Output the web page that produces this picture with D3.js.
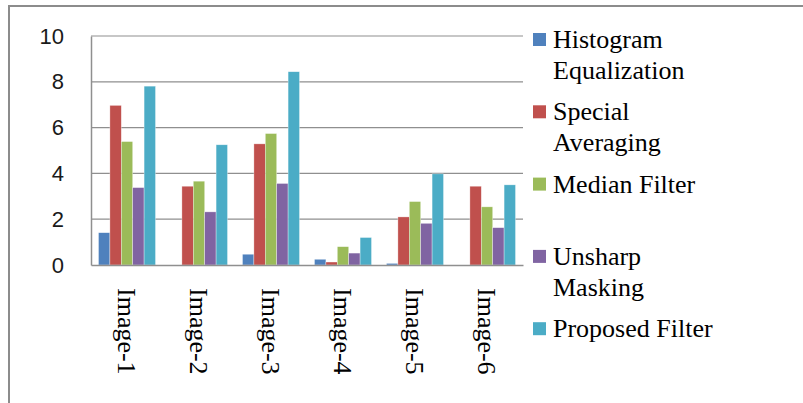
<!DOCTYPE html>
<html>
<head>
<meta charset="utf-8">
<script src="https://cdn.jsdelivr.net/npm/d3@7"></script>
<style>
  html, body { margin: 0; padding: 0; background: #fff; }
  svg { display: block; }
</style>
</head>
<body>
<svg id="chart" width="803" height="403"></svg>
<script>
const categories = ["Image-1", "Image-2", "Image-3", "Image-4", "Image-5", "Image-6"];
const seriesNames = ["Histogram Equalization", "Special Averaging", "Median Filter", "Unsharp Masking", "Proposed Filter"];
const legendLines = [["Histogram", "Equalization"], ["Special", "Averaging"], ["Median Filter"], ["Unsharp", "Masking"], ["Proposed Filter"]];
const histogramEq = [1.41, 0, 0.47, 0.25, 0.07, 0];
const specialAvg  = [6.97, 3.44, 5.29, 0.13, 2.10, 3.44];
const medianFilt  = [5.39, 3.66, 5.74, 0.80, 2.77, 2.54];
const unsharpMask = [3.38, 2.32, 3.56, 0.52, 1.82, 1.63];
const proposed    = [7.81, 5.25, 8.44, 1.20, 3.98, 3.50];
const yTicks = [0, 2, 4, 6, 8, 10];
const colors = ["#4F81BD", "#C0504D", "#9BBB59", "#8064A2", "#4BACC6"];

const seriesValues = [histogramEq, specialAvg, medianFilt, unsharpMask, proposed];
const SERIF = "'Times New Roman', 'Liberation Serif', serif";

const svg = d3.select("#chart");

// outer frame
svg.append("rect")
  .attr("x", 9).attr("y", 6).attr("width", 795).attr("height", 420)
  .attr("fill", "none").attr("stroke", "#8c8c8c").attr("stroke-width", 2);

const plot = { left: 91, right: 523, top: 36, bottom: 265 };

const x0 = d3.scaleBand().domain(categories).range([plot.left, plot.right]).padding(0);
const x1 = d3.scaleBand().domain(d3.range(seriesNames.length))
  .range([7.5, x0.bandwidth() - 7.5]).padding(0);
const y = d3.scaleLinear().domain([0, 10]).range([plot.bottom, plot.top]);

// gridlines
svg.append("g").selectAll("line").data(yTicks.filter(t => t > 0)).join("line")
  .attr("x1", plot.left).attr("x2", plot.right)
  .attr("y1", d => y(d)).attr("y2", d => y(d))
  .attr("stroke", "#8f8f8f").attr("stroke-width", 1.2);

// bars
const groups = svg.append("g").selectAll("g").data(categories).join("g")
  .attr("transform", d => `translate(${x0(d)},0)`);
groups.selectAll("rect")
  .data((c, ci) => seriesValues.map((vals, si) => ({ si, v: vals[ci] })))
  .join("rect")
  .attr("x", d => x1(d.si))
  .attr("width", x1.bandwidth())
  .attr("y", d => y(d.v))
  .attr("height", d => y(0) - y(d.v))
  .attr("fill", d => colors[d.si])
  .attr("stroke", "rgba(255,255,255,0.55)")
  .attr("stroke-width", 0.6);

// axes lines
const yAxis = d3.axisLeft(y).tickValues(yTicks).tickSize(0).tickPadding(27)
  .tickFormat(d3.format("d"));
const gy = svg.append("g").attr("transform", `translate(${plot.left},0)`).call(yAxis);
gy.attr("font-family", null).attr("font-size", null);
gy.select(".domain").attr("stroke", "#8f8f8f").attr("stroke-width", 1.5);
gy.selectAll("text")
  .attr("font-family", "Liberation Sans")
  .attr("font-size", 22).attr("fill", "#1a1a1a");

const xAxis = d3.axisBottom(x0).tickSize(0).tickFormat("");
const gx = svg.append("g").attr("transform", `translate(0,${plot.bottom})`).call(xAxis);
gx.select(".domain").attr("stroke", "#8f8f8f").attr("stroke-width", 1.5);

// x labels (rotated)
svg.append("g").selectAll("text").data(categories).join("text")
  .attr("transform", d => `translate(${x0(d) + x0.bandwidth() / 2 - 9},288) rotate(90)`)
  .style("font-family", SERIF)
  .style("font-size", "26px").attr("fill", "#000")
  .attr("text-anchor", "start")
  .text(d => d);

// legend
const legendRows = [];
legendLines.forEach((lines, i) => lines.forEach((line, li) => legendRows.push({ i, li, line })));
const legendG = svg.append("g").attr("transform", "translate(533,33)")
  .style("font-family", SERIF);
legendG.selectAll("rect").data(seriesNames).join("rect")
  .attr("x", 0).attr("y", (d, i) => i * 72.3)
  .attr("width", 13).attr("height", 13)
  .attr("fill", (d, i) => colors[i]);
legendG.selectAll("text").data(legendRows).join("text")
  .attr("x", 20).attr("y", d => d.i * 72.3 + 15 + d.li * 31)
  .style("font-family", SERIF)
  .style("font-size", "26px").attr("fill", "#000")
  .text(d => d.line);
</script>
</body>
</html>
